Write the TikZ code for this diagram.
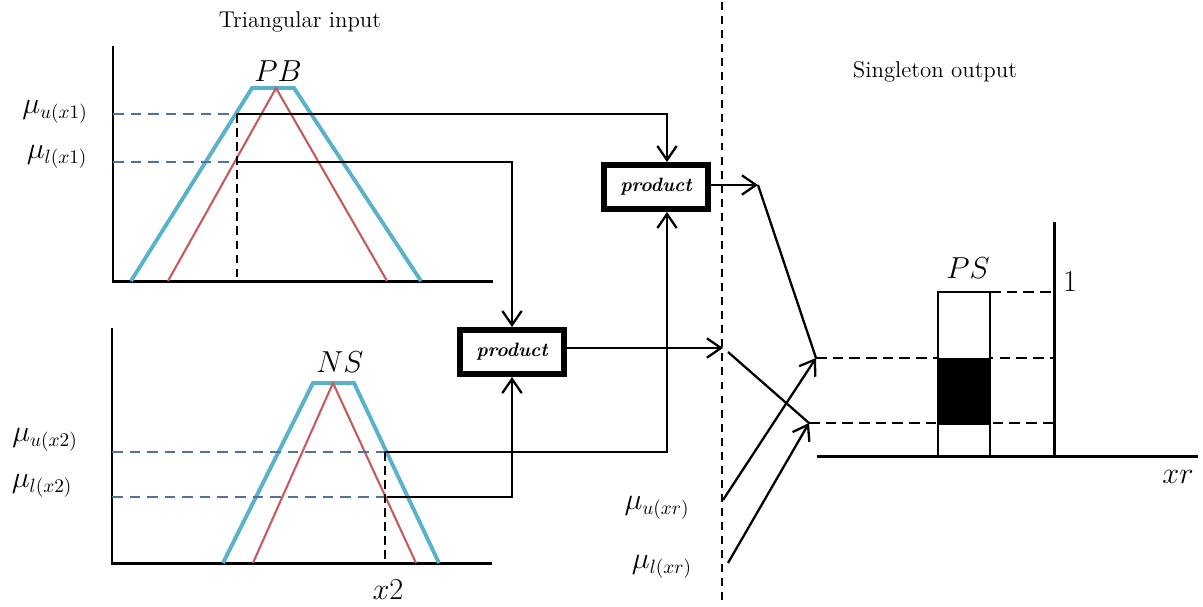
\documentclass[tikz,border=0pt]{standalone}
\usepackage{amsmath}
\usepackage{tikz}
\usetikzlibrary{arrows.meta}
\definecolor{mfblue}{RGB}{88,178,204}
\definecolor{mfred}{RGB}{196,92,92}
\definecolor{lvblue}{RGB}{84,112,160}

\begin{document}
\begin{tikzpicture}[x=0.02cm, y=-0.02cm,
  >={Straight Barb[length=8pt,width=11pt,line width=1.3pt]},
  axis line/.style={line width=1.7pt},
  upper mf/.style={line width=2.2pt, mfblue},
  lower mf/.style={line width=1.2pt, mfred},
  level line/.style={line width=1.4pt, lvblue, dash pattern=on 6pt off 4pt},
  cut line/.style={line width=1.4pt, dash pattern=on 5pt off 3pt},
  wire/.style={line width=1.3pt},
  prod node/.style={draw, line width=3.4pt, minimum width=2.08cm, minimum height=0.88cm,
    inner sep=0pt, font=\fontsize{11}{13}\selectfont\bfseries\itshape},
  lbl/.style={font=\fontsize{16}{18}\selectfont},
  ttl/.style={font=\fontsize{13}{15}\selectfont}]
\useasboundingbox (0,0) rectangle (1203,606);

% titles
\node[ttl] (tin) at (300,22) {Triangular input};
\node[ttl] (tout) at (935,72) {Singleton output};

% upper input: PB
\draw[axis line] (113,46) -- (113,281) -- (493,281);
\draw[upper mf] (131,281) -- (252,88) -- (294,88) -- (421,281);
\draw[lower mf] (168,281) -- (276,88) -- (387,281);
\node[lbl] (pb) at (278,71) {$PB$};
\node[lbl] (mu1) at (55,112) {$\mu_{u(x1)}$};
\node[lbl] (ml1) at (57,157) {$\mu_{l(x1)}$};
\coordinate (u1) at (237,114);
\coordinate (l1) at (237,162);
\draw[level line] (113,114) -- (u1);
\draw[level line] (113,162) -- (l1);
\draw[cut line] (u1) -- (237,281);

% lower input: NS
\draw[axis line] (112,328) -- (112,563) -- (492,563);
\draw[upper mf] (223,563) -- (313,383) -- (354,383) -- (439,563);
\draw[lower mf] (253,563) -- (333,383) -- (416,563);
\node[lbl] (ns) at (340,362) {$NS$};
\node[lbl] (x2) at (388,590) {$x2$};
\node[lbl] (mu2) at (45,440) {$\mu_{u(x2)}$};
\node[lbl] (ml2) at (42,486) {$\mu_{l(x2)}$};
\coordinate (u2) at (385,452);
\coordinate (l2) at (387,497);
\draw[level line] (112,452) -- (u2);
\draw[level line] (112,497) -- (l2);
\draw[cut line] (u2) -- (385,563);

% product blocks
\node[prod node] (p1) at (656,187) {product};
\node[prod node] (p2) at (512,352) {product};

\draw[wire,->] (u1) -| ([xshift=0.22cm]p1.north);
\draw[wire,->] (u2) -| ([xshift=0.22cm]p1.south);
\draw[wire,->] (l1) -| (p2.north);
\draw[wire,->] (l2) -| (p2.south);

% separator
\draw[cut line, dash pattern=on 4.5pt off 3.5pt] (722,2) -- (722,604);

% interval outputs
\coordinate (a1) at (758,185);
\coordinate (a2) at (723,348);
\coordinate (hi) at (816,358);
\coordinate (lo) at (809,423);
\coordinate (ur) at (723,500);
\coordinate (lr) at (728,563);
\draw[wire,->] (p1.east |- a1) -- (a1);
\draw[wire,->] (p2.east |- a2) -- (a2);
\draw[wire] (a1) -- (hi);
\draw[wire] (728,352) -- (lo);
\draw[wire,->] (ur) -- (hi);
\draw[wire,->] (lr) -- (lo);
\node[lbl] (mur) at (657,508) {$\mu_{u(xr)}$};
\node[lbl] (mlr) at (662,567) {$\mu_{l(xr)}$};

% singleton output: PS
\draw[cut line, dash pattern=on 6pt off 3.5pt] (990,292) -- (1054,292);
\draw[cut line, dash pattern=on 6pt off 3.5pt] (hi) -- (1054,358);
\draw[cut line, dash pattern=on 6pt off 3.5pt] (lo) -- (1054,423);
\draw[axis line] (817,456) -- (1198,456);
\draw[axis line] (1054,222) -- (1054,456);
\draw[wire, fill=white] (938,292) rectangle (990,456);
\fill (938,358) rectangle (990,425);
\node[lbl] (ps) at (968,268) {$PS$};
\node[lbl] (one) at (1070,282) {$1$};
\node[lbl] (xr) at (1178,477) {$xr$};
\end{tikzpicture}
\end{document}
